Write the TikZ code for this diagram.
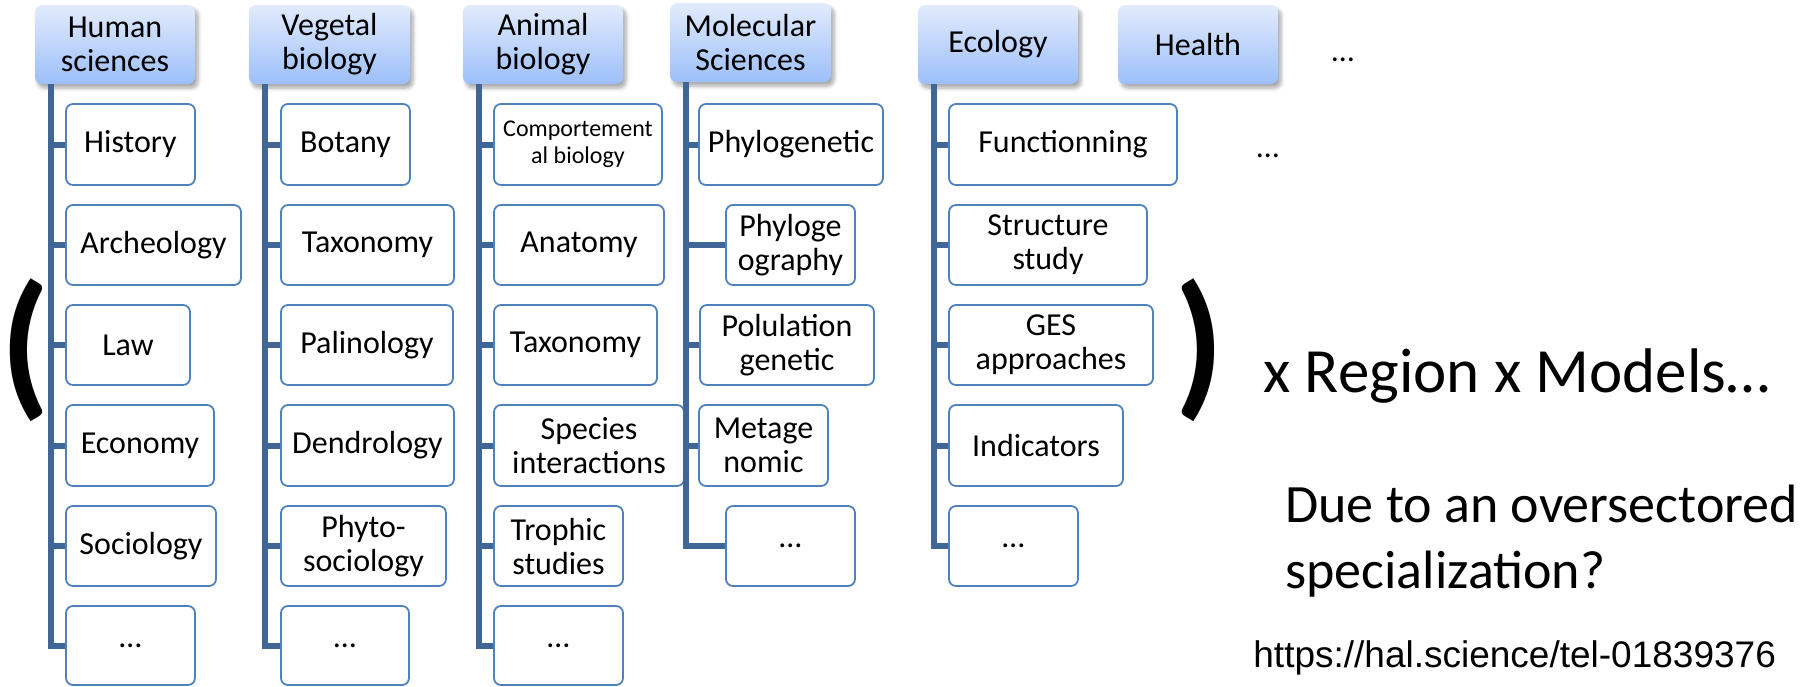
\documentclass[tikz,border=0pt]{standalone}
\usepackage{fontspec}
\setmainfont{Carlito}
\newfontfamily\urlfont{Liberation Sans}
\usetikzlibrary{shadows.blur}

\definecolor{hdrtop}{RGB}{226,235,252}
\definecolor{hdrbot}{RGB}{156,191,250}
\definecolor{boxline}{RGB}{79,129,189}
\definecolor{connline}{RGB}{64,102,152}

\tikzset{
  header/.style={rounded corners=3.5pt, top color=hdrtop, bottom color=hdrbot,
    draw=none, align=center, inner sep=0pt, font=\fontsize{16}{17}\selectfont,
    blur shadow={shadow xshift=1.5pt, shadow yshift=-2pt, shadow opacity=35,
      shadow blur steps=6}},
  leaf/.style={rounded corners=3.5pt, draw=boxline, line width=0.9pt, fill=white,
    align=center, inner sep=0pt, font=\fontsize{16}{17}\selectfont},
  conn/.style={draw=connline, line width=3pt},
  bigtext/.style={inner sep=0pt, anchor=base west},
  bracket/.style={inner sep=0pt, font=\fontsize{80}{84}\selectfont\bfseries},
}

% style, name, x1, y1, x2, y2, text  (pixel-like units, y downwards)
\newcommand\placebox[7]{%
  \node[#1, minimum width={(#5-#3)*0.5pt}, minimum height={(#6-#4)*0.5pt}]
    (#2) at ({(#3+#5)/2},{(#4+#6)/2}) {#7};}

\begin{document}
\begin{tikzpicture}[x=0.5pt, y=-0.5pt]
\useasboundingbox (0,0) rectangle (1808,686);

% column headers
\placebox{header}{hum}{35}{5}{195}{84}{Human\\sciences}
\placebox{header}{veg}{249}{5}{410}{84}{Vegetal\\biology}
\placebox{header}{ani}{463}{5}{623}{84}{Animal\\biology}
\placebox{header}{mol}{670}{3}{831}{82}{Molecular\\Sciences}
\placebox{header}{eco}{918}{5}{1078}{84}{Ecology}
\placebox{header}{hea}{1118}{5}{1278}{84}{Health}

% Human sciences
\placebox{leaf}{hum1}{66}{104}{195}{185}{History}
\placebox{leaf}{hum2}{66}{205}{241}{285}{Archeology}
\placebox{leaf}{hum3}{66}{305}{190}{385}{Law}
\placebox{leaf}{hum4}{66}{405}{214}{486}{Economy}
\placebox{leaf}{hum5}{66}{506}{216}{586}{Sociology}
\placebox{leaf}{hum6}{66}{606}{195}{685}{…}

% Vegetal biology
\placebox{leaf}{veg1}{281}{104}{410}{185}{Botany}
\placebox{leaf}{veg2}{281}{205}{454}{285}{Taxonomy}
\placebox{leaf}{veg3}{281}{305}{453}{385}{Palinology}
\placebox{leaf}{veg4}{281}{405}{454}{486}{Dendrology}
\placebox{leaf}{veg5}{281}{506}{446}{586}{Phyto-\\sociology}
\placebox{leaf}{veg6}{281}{606}{409}{685}{…}

% Animal biology
\placebox{leaf, font=\fontsize{12}{13.5}\selectfont}{ani1}{494}{104}{662}{185}{Comportement\\al biology}
\placebox{leaf}{ani2}{494}{205}{664}{285}{Anatomy}
\placebox{leaf}{ani3}{494}{305}{657}{385}{Taxonomy}
\placebox{leaf}{ani4}{494}{405}{684}{486}{Species\\interactions}
\placebox{leaf}{ani5}{494}{506}{623}{586}{Trophic\\studies}
\placebox{leaf}{ani6}{494}{606}{623}{685}{…}

% Molecular sciences
\placebox{leaf}{mol1}{699}{104}{883}{185}{Phylogenetic}
\placebox{leaf}{mol2}{726}{205}{855}{285}{Phyloge\\ography}
\placebox{leaf}{mol3}{700}{305}{874}{385}{Polulation\\genetic}
\placebox{leaf}{mol4}{699}{405}{828}{486}{Metage\\nomic}
\placebox{leaf}{mol5}{726}{506}{855}{586}{…}

% Ecology
\placebox{leaf}{eco1}{949}{104}{1177}{185}{Functionning}
\placebox{leaf}{eco2}{949}{205}{1147}{285}{Structure\\study}
\placebox{leaf}{eco3}{949}{305}{1153}{385}{GES\\approaches}
\placebox{leaf}{eco4}{949}{405}{1123}{486}{Indicators}
\placebox{leaf}{eco5}{949}{506}{1078}{586}{…}

% trunks and branches
\foreach \h/\n in {hum/6, veg/6, ani/6, mol/5, eco/5}{
  \coordinate (\h-root) at ([xshift=8pt]\h.south west);
  \draw[conn] (\h-root) |- (\h\n.west);
  \pgfmathtruncatemacro\last{\n-1}
  \foreach \i in {1,...,\last}{
    \draw[conn] (\h-root |- \h\i.west) -- (\h\i.west);
  }
}

% more columns / rows not shown
\node[anchor=base, inner sep=0pt, font=\fontsize{16}{17}\selectfont] (more1) at (1343,61) {…};
\node[anchor=base, inner sep=0pt, font=\fontsize{16}{17}\selectfont] (more2) at (1268,157) {…};

% brackets around the disciplines
\node[bracket] (lpar) at (25,350) {(};
\node[bracket] (rpar) at (1199,350) {)};

% right-hand remarks
\node[bigtext, font=\fontsize{31.5}{36}\selectfont] (mult) at (1263,392) {x Region x Models…};
\node[bigtext, align=left, font=\fontsize{27}{33}\selectfont] (why) at (1285,588) {Due to an oversectored\\specialization?};
\node[bigtext, font=\urlfont\fontsize{18.5}{22}\selectfont] (src) at (1253,667) {https://hal.science/tel-01839376};
\end{tikzpicture}
\end{document}
